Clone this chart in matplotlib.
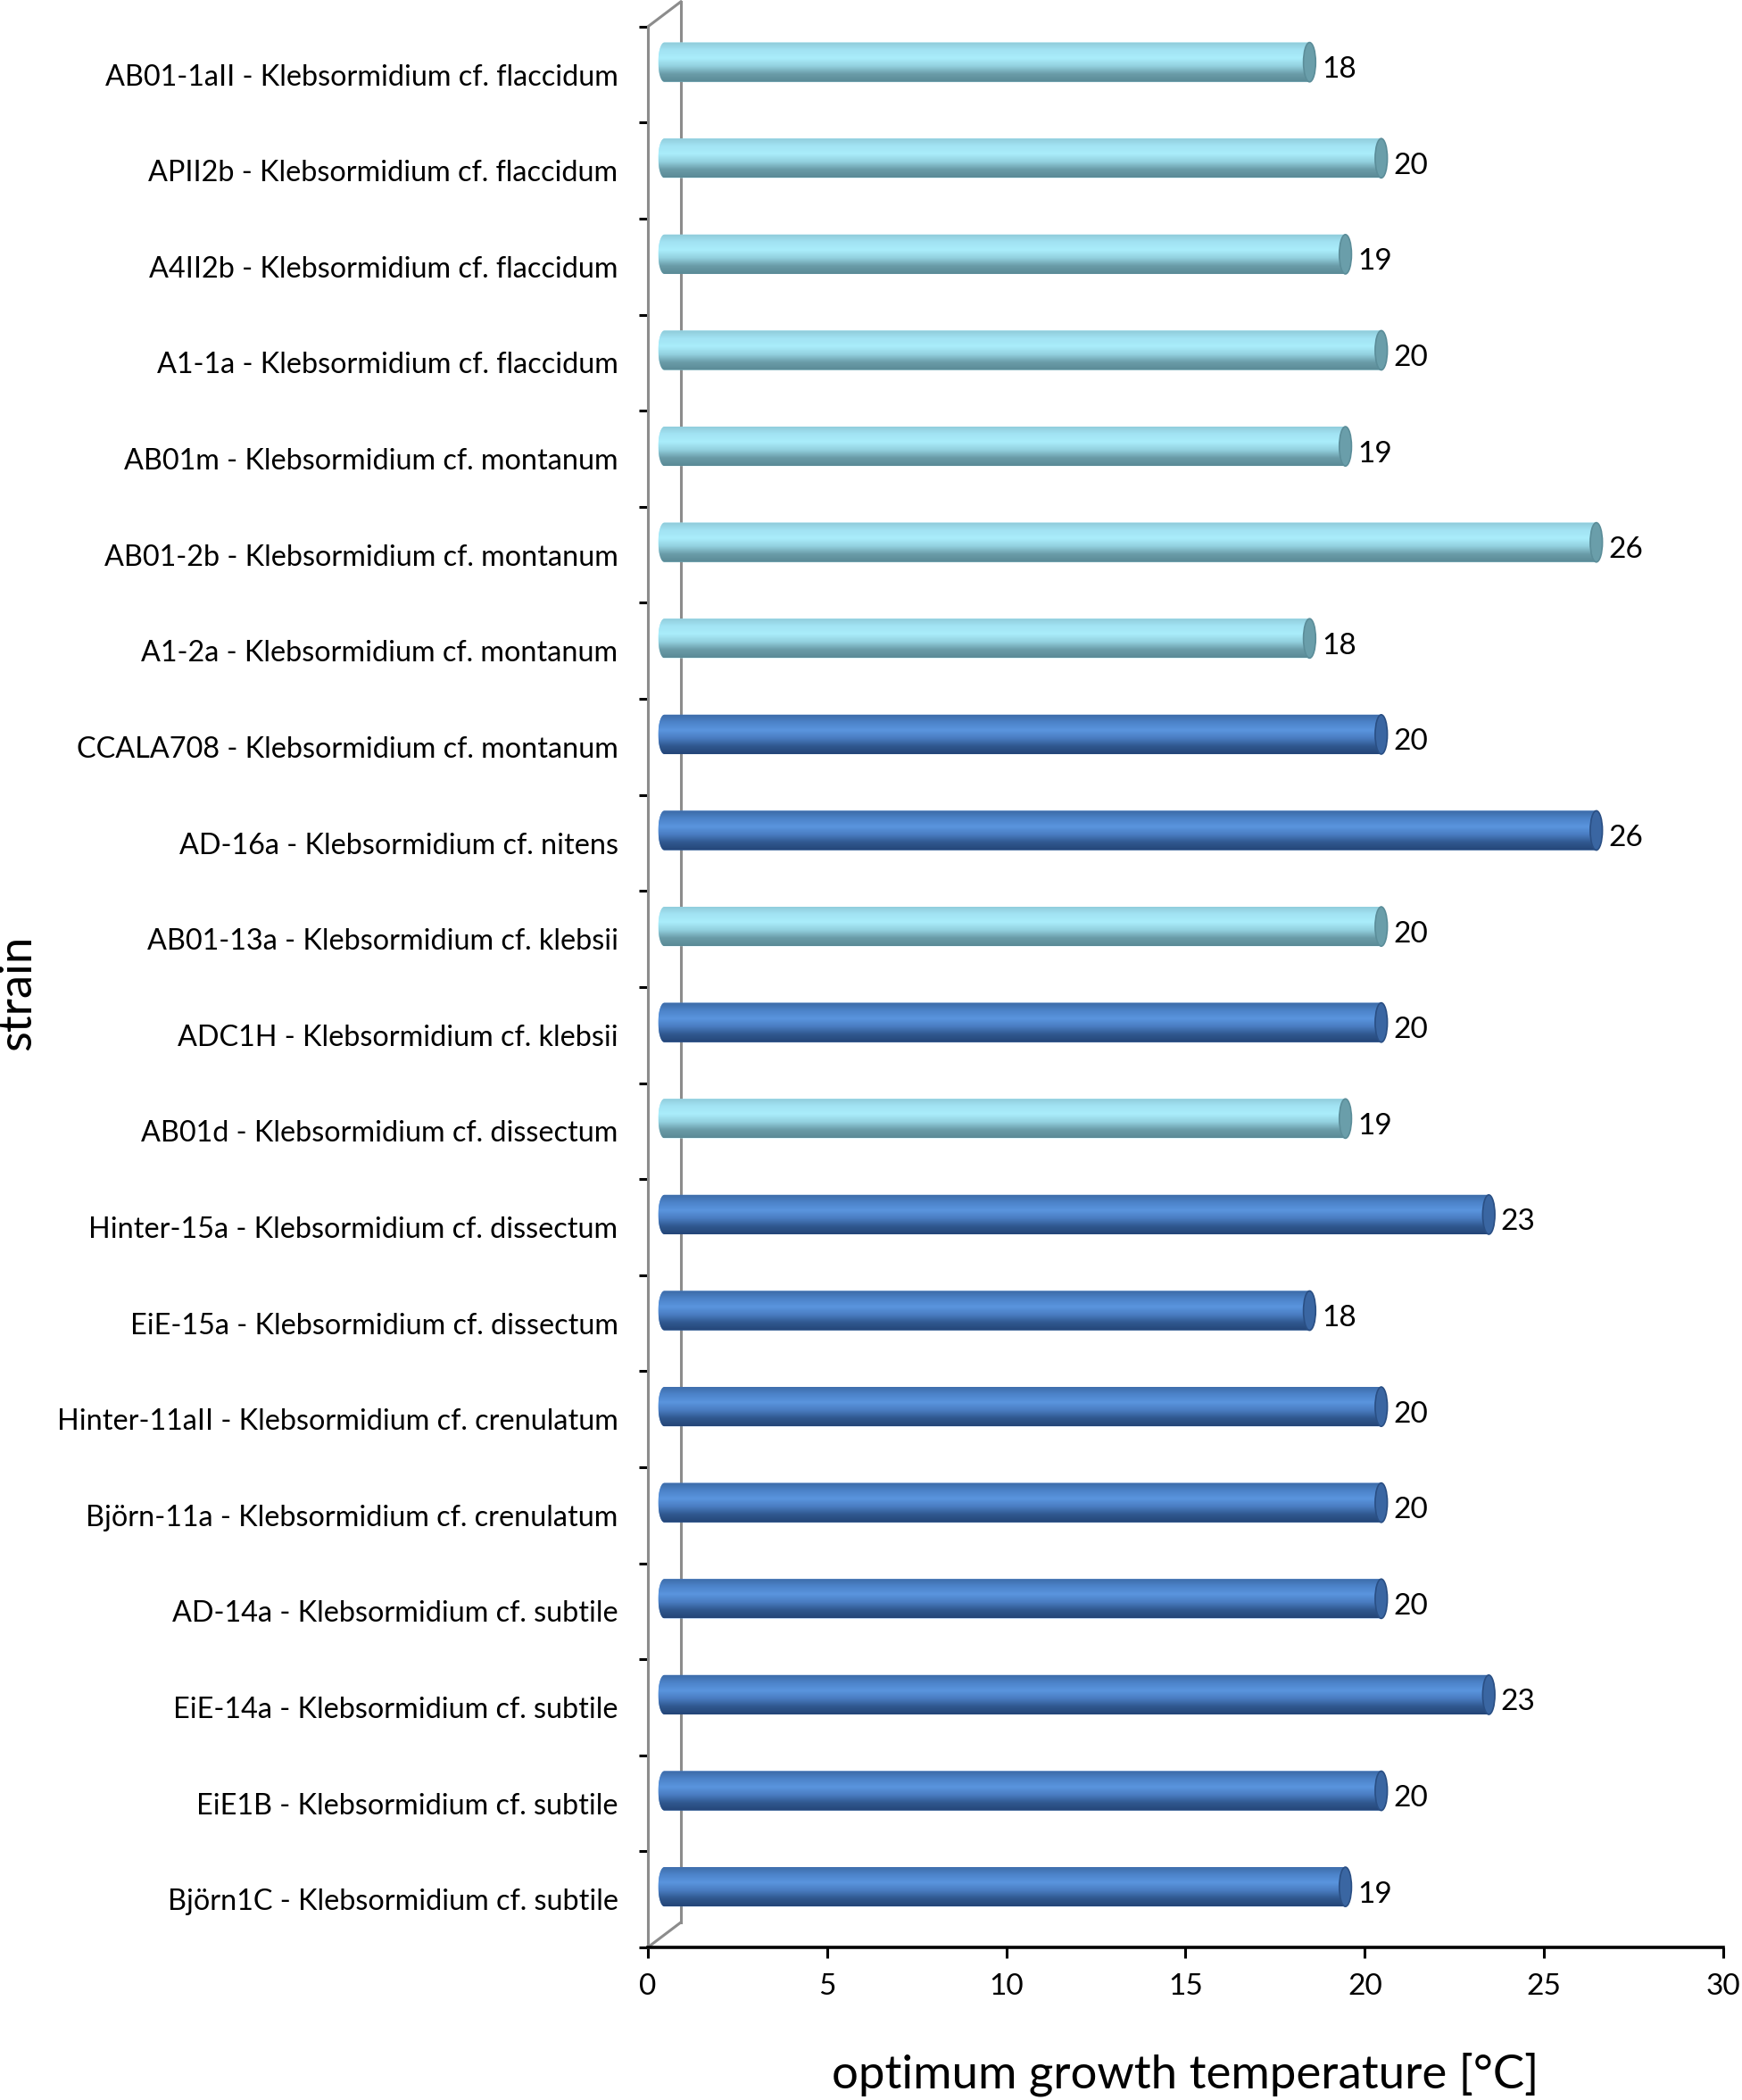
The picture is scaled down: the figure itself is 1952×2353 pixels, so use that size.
import matplotlib.pyplot as plt
import numpy as np
from matplotlib.transforms import ScaledTranslation
from matplotlib.path import Path
from matplotlib.patches import PathPatch, Ellipse
from matplotlib.colors import LinearSegmentedColormap

# Data (top to bottom as shown)
strains = [
    "AB01-1aII - Klebsormidium cf. flaccidum",
    "APII2b - Klebsormidium cf. flaccidum",
    "A4II2b - Klebsormidium cf. flaccidum",
    "A1-1a - Klebsormidium cf. flaccidum",
    "AB01m - Klebsormidium cf. montanum",
    "AB01-2b - Klebsormidium cf. montanum",
    "A1-2a - Klebsormidium cf. montanum",
    "CCALA708 - Klebsormidium cf. montanum",
    "AD-16a - Klebsormidium cf. nitens",
    "AB01-13a - Klebsormidium cf. klebsii",
    "ADC1H - Klebsormidium cf. klebsii",
    "AB01d - Klebsormidium cf. dissectum",
    "Hinter-15a - Klebsormidium cf. dissectum",
    "EiE-15a - Klebsormidium cf. dissectum",
    "Hinter-11aII - Klebsormidium cf. crenulatum",
    "Björn-11a - Klebsormidium cf. crenulatum",
    "AD-14a - Klebsormidium cf. subtile",
    "EiE-14a - Klebsormidium cf. subtile",
    "EiE1B - Klebsormidium cf. subtile",
    "Björn1C - Klebsormidium cf. subtile",
]
temps = [18, 20, 19, 20, 19, 26, 18, 20, 26, 20, 20, 19, 23, 18, 20, 20, 20, 23, 20, 19]
groups = ["light"] * 7 + ["dark", "dark", "light", "dark", "light"] + ["dark"] * 8

# cylinder shading: top -> bottom
shades = {
    "light": ["#8fcad8", "#a2e3f3", "#aaedfb", "#93d1df", "#6a9ca8", "#5a8a96"],
    "dark": ["#3c6aa6", "#4c83c9", "#5a95de", "#4a7dc2", "#30588f", "#244577"],
}
caps = {"light": ("#6a9eaa", "#5b8d99"), "dark": ("#3a66a2", "#2a4f84")}

plt.rcParams["font.family"] = ["Lato", "DejaVu Sans"]

fig = plt.figure(figsize=(19.52, 23.53), dpi=100)
ax = fig.add_axes([0.3719, 0.0727, 0.6173, 0.9146])

n = len(strains)
ypos = np.arange(n)
bar_h = 0.41
rx = 0.17  # half width of the elliptical ends (data units)

# bars sit half way into the 3D depth
half_depth = ScaledTranslation(0.185, 0.14, fig.dpi_scale_trans)
bar_tr = ax.transData + half_depth

for yi, v, g in zip(ypos, temps, groups):
    ry = bar_h / 2
    t1 = np.linspace(np.pi / 2, 3 * np.pi / 2, 40)
    t2 = np.linspace(-np.pi / 2, np.pi / 2, 40)
    xs = np.concatenate([rx * np.cos(t1), v + rx * np.cos(t2)])
    ys = np.concatenate([yi + ry * np.sin(t1), yi + ry * np.sin(t2)])
    verts = np.column_stack([xs, ys])
    verts = np.vstack([verts, verts[:1]])
    path = Path(verts, closed=True)
    body = PathPatch(path, facecolor=shades[g][2], edgecolor="none",
                     transform=bar_tr, zorder=2)
    ax.add_patch(body)

    cmap = LinearSegmentedColormap.from_list(g, shades[g])
    grad = cmap(np.linspace(0, 1, 128))[:, None, :]
    im = ax.imshow(grad, extent=(-rx, v + rx, yi + ry, yi - ry), origin="upper",
                   aspect="auto", interpolation="bilinear", zorder=3)
    im.set_transform(bar_tr)
    im.set_clip_path(body)

    cap = Ellipse((v, yi), width=2 * rx, height=bar_h, facecolor=caps[g][0],
                  edgecolor=caps[g][1], linewidth=1.2, transform=bar_tr, zorder=4)
    ax.add_patch(cap)

    ax.annotate(f"{v}", xy=(v, yi), xytext=(23, 4), textcoords="offset points",
                ha="left", va="center", fontsize=24, color="black", zorder=5)

ax.set_xlim(0, 30)
ax.set_ylim(n - 0.5, -0.5)

# side wall of the 3D frame
wall = dict(color="#8c8c8c", linewidth=2.2, transform=ax.transAxes, clip_on=False, zorder=1)
dx, dy = 37 / 1205, 28 / 2152
ax.plot([dx, dx], [dy, 1 + dy], **wall)
ax.plot([0, dx], [1, 1 + dy], **wall)
ax.plot([0, dx], [0, dy], **wall)

for s in ["top", "right"]:
    ax.spines[s].set_visible(False)
ax.spines["left"].set_color("#8c8c8c")
ax.spines["left"].set_linewidth(2.2)
ax.spines["bottom"].set_color("black")
ax.spines["bottom"].set_linewidth(2.6)
ax.spines["bottom"].set_zorder(6)

ax.set_xticks(np.arange(0, 31, 5))
ax.tick_params(axis="x", direction="out", length=8.6, width=2.2, pad=12, labelsize=24)
ax.set_yticks(ypos)
ax.set_yticklabels(strains)
ax.set_yticks(np.arange(-0.5, n, 1), minor=True)
ax.tick_params(axis="y", which="major", length=0, pad=24, labelsize=23.3)
ax.tick_params(axis="y", which="minor", direction="out", length=7.2, width=2.2)

ax.set_xlabel("optimum growth temperature [°C]", fontsize=38, va="center")
ax.xaxis.set_label_coords(0.5, -0.066)
ax.set_ylabel("strain", fontsize=38, va="center")
ax.yaxis.set_label_coords(-0.586, 0.497)

plt.savefig("out.png", dpi=100)
